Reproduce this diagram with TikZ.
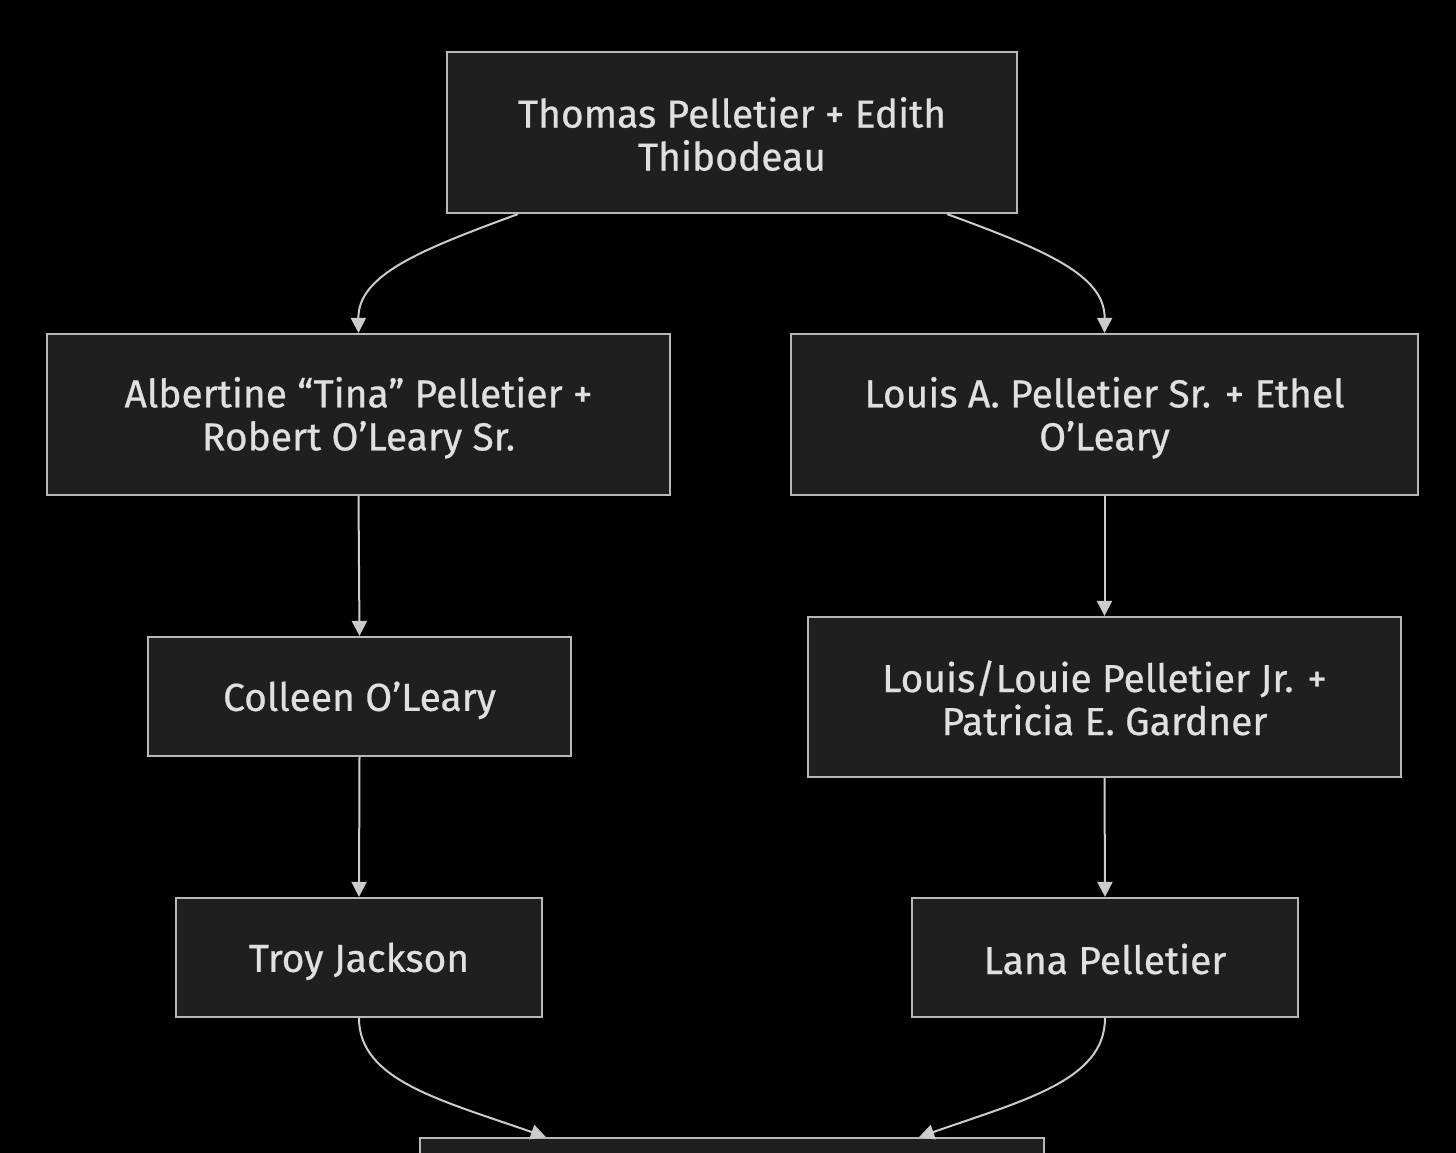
\documentclass[tikz,border=0pt]{standalone}
\usepackage{fontspec}
\setmainfont[FakeBold=0.6]{Fira Sans}
\usetikzlibrary{arrows.meta,calc}
\definecolor{bg}{HTML}{000000}
\definecolor{boxfill}{HTML}{1F1F1F}
\definecolor{boxline}{HTML}{B8B8B8}
\definecolor{txt}{HTML}{E0E0E0}
\definecolor{edge}{HTML}{CCCCCC}
\newcommand\vstrut{\rule[-4pt]{0pt}{41pt}}
\tikzset{
  person/.style={draw=boxline, line width=2.2pt, fill=boxfill, text=txt,
    align=center, inner sep=0pt, font=\fontsize{39}{43}\selectfont},
  link/.style={draw=edge, line width=2pt, -{Triangle[length=15pt,width=15pt]}}
}
\begin{document}
\begin{tikzpicture}[x=1pt,y=-1pt]
\useasboundingbox[fill=bg] (0,0) rectangle (1456,1153);
\node[person, minimum width=570, minimum height=161] (top) at (732,132.5) {\vstrut Thomas Pelletier + Edith\\\vstrut Thibodeau};
\node[person, minimum width=623, minimum height=161] (tina) at (358.5,414.5) {\vstrut Albertine “Tina” Pelletier +\\\vstrut Robert O’Leary Sr.};
\node[person, minimum width=627, minimum height=161] (louis) at (1104.5,414.5) {\vstrut Louis A. Pelletier Sr. + Ethel\\\vstrut O’Leary};
\node[person, minimum width=423, minimum height=119] (colleen) at (359.5,696.5) {\vstrut Colleen O’Leary};
\node[person, minimum width=593, minimum height=160] (louie) at (1104.5,697) {\vstrut Louis/Louie Pelletier Jr. +\\\vstrut Patricia E. Gardner};
\node[person, minimum width=366, minimum height=119] (troy) at (359,957.5) {\vstrut Troy Jackson};
\node[person, minimum width=386, minimum height=119] (lana) at (1105,957.5) {\vstrut Lana Pelletier};
\begin{scope}
\clip (0,0) rectangle (1456,1153);
\node[person, minimum width=624, minimum height=120, anchor=north] (child) at (732,1137) {};
\end{scope}
\coordinate (topL) at ($(top.south west)+(72,0)$);
\coordinate (topR) at ($(top.south east)+(-71,0)$);
\coordinate (childL) at ($(child.north west)+(127,0)$);
\coordinate (childR) at ($(child.north east)+(-126,0)$);
\draw[link] (topL) .. controls (420,250) and (358,275) .. (tina.north);
\draw[link] (topR) .. controls (1045,250) and (1105,275) .. (louis.north);
\draw[link] (tina.south) -- (colleen.north);
\draw[link] (louis.south) -- (louie.north);
\draw[link] (colleen.south) -- (troy.north);
\draw[link] (louie.south) -- (lana.north);
\draw[link] (troy.south) .. controls (359,1080) and (440,1100) .. (childL);
\draw[link] (lana.south) .. controls (1105,1080) and (1025,1100) .. (childR);
\end{tikzpicture}
\end{document}
